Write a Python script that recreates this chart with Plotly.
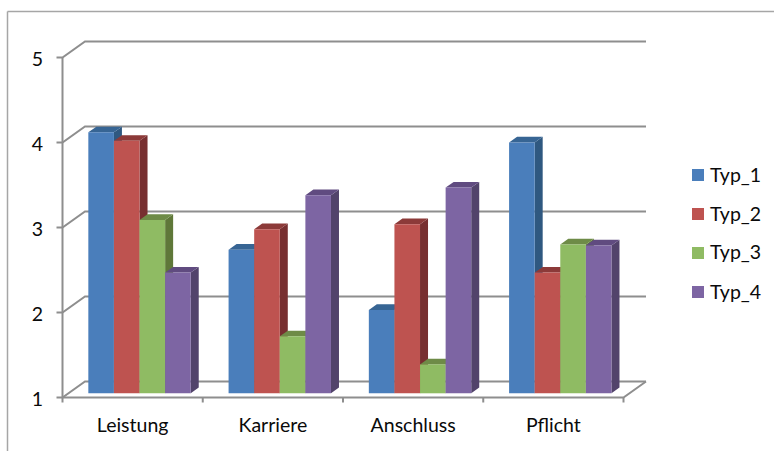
import plotly.graph_objects as go

# Chart data
categories = ["Leistung", "Karriere", "Anschluss", "Pflicht"]
series_names = ["Typ_1", "Typ_2", "Typ_3", "Typ_4"]
typ_1 = [4.07, 2.69, 1.98, 3.95]
typ_2 = [3.97, 2.93, 2.99, 2.42]
typ_3 = [3.04, 1.67, 1.34, 2.75]
typ_4 = [2.42, 3.33, 3.42, 2.74]
y_ticks = [1, 2, 3, 4, 5]

# Face colours per series: front, side, top
front_colors = ["#4A7EBB", "#BE5350", "#8FBB63", "#7D65A3"]
side_colors = ["#2F5880", "#772F30", "#5F7839", "#52436B"]
top_colors = ["#376594", "#8C3A39", "#6E8B47", "#604B80"]
GRID = "#8E8E8E"
TEXT = "#0A0A0A"
FONT = "Lato"

WIDTH, HEIGHT = 774, 451
# Front plane of the chart box, in page pixels
LEFT, RIGHT, TOP, BOTTOM = 62.5, 623.5, 57.5, 397.5
PX_X = (RIGHT - LEFT) / 4   # pixels per category
PX_Y = (BOTTOM - TOP) / 4   # pixels per value unit
# Plot area is larger than the front plane so the oblique walls fit inside it
PLOT_L, PLOT_R, PLOT_T, PLOT_B = 54, 654, 36, 408

# Oblique projection: offsets of the back wall and of the bar solids
WALL_DX, WALL_DY = 22.5 / PX_X, 16 / PX_Y
BAR_DX, BAR_DY = 8 / PX_X, 5.7 / PX_Y
BAR_WIDTH = 25.6 / PX_X
BAR_SHIFT = 6.9 / PX_X
BAR_BASE = 1 + 4.2 / PX_Y
# Value-axis labels sit slightly below their tick marks
LABEL_DROP = 2 / PX_Y

x_lo, x_hi = -0.5, len(categories) - 0.5
y_lo, y_hi = y_ticks[0], y_ticks[-1]
x_range = [x_lo - (LEFT - PLOT_L) / PX_X, x_hi + (PLOT_R - RIGHT) / PX_X]
y_range = [y_lo - (PLOT_B - BOTTOM) / PX_Y, y_hi + (TOP - PLOT_T) / PX_Y]

fig = go.Figure()

# Back wall gridlines, left-wall diagonals, axis lines and tick marks
frame_x, frame_y = [], []
for v in y_ticks:
    frame_x += [x_lo - 6 / PX_X, x_lo, x_lo + WALL_DX, x_hi + WALL_DX, None]
    frame_y += [v, v, v + WALL_DY, v + WALL_DY, None]
frame_x += [x_lo, x_lo, None, x_lo, x_hi, x_hi + WALL_DX, None]
frame_y += [y_lo, y_hi, None, y_lo, y_lo, y_lo + WALL_DY, None]
for i in range(len(categories) + 1):
    frame_x += [x_lo + i, x_lo + i, None]
    frame_y += [y_lo, y_lo - 5 / PX_Y, None]
fig.add_trace(go.Scatter(
    x=frame_x, y=frame_y, mode="lines", showlegend=False,
    line=dict(color=GRID, width=2), hoverinfo="skip", zorder=0,
))

all_series = [typ_1, typ_2, typ_3, typ_4]
for j, (name, values) in enumerate(zip(series_names, all_series)):
    centers = [i + BAR_SHIFT + (j - 1.5) * BAR_WIDTH for i in range(len(categories))]

    # Right-hand side faces
    sx, sy = [], []
    for c, v in zip(centers, values):
        r = c + BAR_WIDTH / 2
        top = v + BAR_BASE - 1
        sx += [r, r + BAR_DX, r + BAR_DX, r, r, None]
        sy += [top, top + BAR_DY, BAR_BASE + BAR_DY, BAR_BASE, top, None]
    fig.add_trace(go.Scatter(
        x=sx, y=sy, mode="lines", fill="toself", fillcolor=side_colors[j],
        line=dict(width=0, color=side_colors[j]),
        showlegend=False, hoverinfo="skip", zorder=2 * j + 1,
    ))

    # Top faces
    tx, ty = [], []
    for c, v in zip(centers, values):
        l, r = c - BAR_WIDTH / 2, c + BAR_WIDTH / 2
        top = v + BAR_BASE - 1
        tx += [l, r, r + BAR_DX, l + BAR_DX, l, None]
        ty += [top, top, top + BAR_DY, top + BAR_DY, top, None]
    fig.add_trace(go.Scatter(
        x=tx, y=ty, mode="lines", fill="toself", fillcolor=top_colors[j],
        line=dict(width=0, color=top_colors[j]),
        showlegend=False, hoverinfo="skip", zorder=2 * j + 1,
    ))

    # Front faces
    fig.add_trace(go.Bar(
        x=centers, y=[v - 1 for v in values], base=BAR_BASE, width=BAR_WIDTH,
        name=name, showlegend=False,
        marker=dict(color=front_colors[j], line=dict(width=0)),
        customdata=values, hovertemplate="%{customdata}<extra>" + name + "</extra>",
        zorder=2 * j + 2,
    ))

to_px = lambda px: (px - PLOT_L) / (PLOT_R - PLOT_L)
to_py = lambda py: (PLOT_B - py) / (PLOT_B - PLOT_T)

# Outer chart frame, open on the right and bottom
frame_line = dict(type="line", xref="paper", yref="paper", layer="below",
                  line=dict(color="#A6A6A6", width=1.5))
shapes = [
    dict(frame_line, x0=to_px(7.5), x1=to_px(WIDTH), y0=to_py(11.5), y1=to_py(11.5)),
    dict(frame_line, x0=to_px(7.5), x1=to_px(7.5), y0=to_py(11.5), y1=to_py(HEIGHT)),
]

# Legend: square swatches with labels set close beside them
annotations = []
for j, name in enumerate(series_names):
    cy = 175 + j * 39
    shapes.append(dict(
        type="rect", xref="paper", yref="paper", line=dict(width=0),
        fillcolor=front_colors[j],
        x0=to_px(692), x1=to_px(704), y0=to_py(cy - 6), y1=to_py(cy + 6),
    ))
    annotations.append(dict(
        xref="paper", yref="paper", x=to_px(707.5), y=to_py(cy - 1), text=name,
        xanchor="left", yanchor="middle", showarrow=False,
        font=dict(family=FONT, size=19.5, color=TEXT),
    ))

fig.update_layout(
    width=WIDTH, height=HEIGHT, autosize=False,
    margin=dict(l=PLOT_L, r=WIDTH - PLOT_R, t=PLOT_T, b=HEIGHT - PLOT_B, pad=0),
    paper_bgcolor="white", plot_bgcolor="rgba(0,0,0,0)",
    font=dict(family=FONT, size=19.5, color=TEXT),
    barmode="overlay", shapes=shapes, annotations=annotations, showlegend=False,
    xaxis=dict(
        range=x_range, tickmode="array", tickvals=list(range(len(categories))),
        ticktext=categories, ticks="", showgrid=False, zeroline=False,
        showline=False, ticklabelstandoff=3,
    ),
    yaxis=dict(
        range=y_range, tickmode="array", tickvals=[v - LABEL_DROP for v in y_ticks],
        ticktext=[str(v) for v in y_ticks], ticks="",
        showgrid=False, zeroline=False, showline=False, ticklabelstandoff=10,
    ),
)

fig.write_html("out.html")
